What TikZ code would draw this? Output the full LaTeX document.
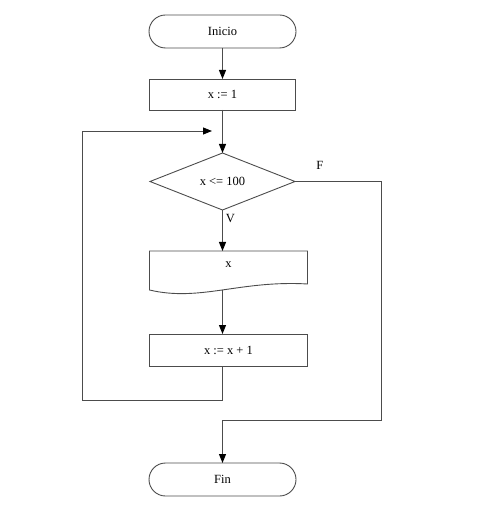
\documentclass[tikz,border=0pt]{standalone}
\usepackage{fontspec}
\setmainfont{Liberation Serif}
\usepackage{tikz}
\usetikzlibrary{positioning,arrows.meta,shapes.geometric}

\begin{document}
\begin{tikzpicture}[>={Triangle[length=9pt,width=7pt,color=black]}, font=\fontsize{12.5}{14}\selectfont,
		term/.style={draw=black!70, line width=0.9pt, rounded corners=16.5pt, minimum width=147pt, minimum height=33pt, inner sep=0pt, outer sep=0pt},
		proc/.style={draw=black!70, line width=0.9pt, minimum width=158pt, minimum height=32pt, inner sep=0pt, outer sep=0pt},
		decision/.style={diamond, draw=black!70, line width=0.9pt, aspect=2.5, minimum width=145pt, minimum height=57pt, inner sep=0pt, outer sep=0pt},
		flow/.style={->, draw=black!70, line width=0.9pt},
		lbl/.style={inner sep=0pt}]
		\useasboundingbox (-222.5pt,31.5pt) rectangle (255.5pt,-478.5pt);

		\node[term] (start) at (0,0) {Inicio};
		\node[proc, minimum width=146pt, minimum height=31pt, below=31pt of start] (init) {x := 1};
		\node[decision, below=43pt of init] (cond) {x <= 100};
		\node[proc, draw=none, minimum height=27pt, below=41pt of cond, xshift=6pt] (out) {x};
		\node[proc, below=56pt of out] (step) {x := x + 1};
		\node[term, below=97pt of step, xshift=-6pt] (stop) {Fin};

		% document shape
		\draw[draw=black!70, line width=0.9pt] (out.north west) -- (out.north east) -- ([yshift=-6pt]out.south east)
			.. controls +(-67.5pt,4pt) and +(50.5pt,-12pt) .. ([yshift=-12pt]out.south west) coordinate[pos=0.5] (wave) -- cycle;

		\coordinate (tail) at (cond.south |- step.south);
		\coordinate[below=34pt of tail] (lbot);
		\coordinate[left=140.5pt of lbot] (lcorner);
		\coordinate[below=21pt of init.south] (ltop);
		\coordinate[left=10.5pt of ltop] (lend);
		\coordinate[right=86pt of cond.east] (fr);
		\coordinate[below=54pt of tail] (fjoin);

		\draw[flow] (start) -- (init);
		\draw[flow] (init) -- (cond);
		\draw[flow] (cond) -- node[lbl, pos=0.2, right=3pt] {V} (cond.south |- out.north);
		\draw[flow] (cond.south |- wave) -- (cond.south |- step.north);
		\draw[flow] (tail) -- (lbot) -- (lcorner) |- (lend);
		\draw[flow] (cond.east) -- node[lbl, pos=0.29, above=12pt] {F} (fr) |- (fjoin) -- (stop);
\end{tikzpicture}
\end{document}
